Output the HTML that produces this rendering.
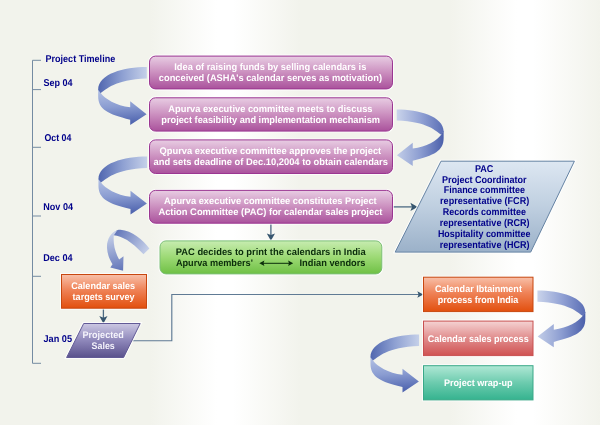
<!DOCTYPE html>
<html lang="en">
<head>
<meta charset="utf-8">
<title>Project Timeline</title>
<style>
html,body{margin:0;padding:0;background:#f2f3ec;}
body{width:600px;height:425px;overflow:hidden;}
svg{display:block;will-change:transform;text-rendering:geometricPrecision;font-family:"Liberation Sans",Arial,sans-serif;font-weight:bold;}
</style>
</head>
<body>
<svg width="600" height="425" viewBox="0 0 600 425">
<defs>
<linearGradient id="bg" x1="0" y1="0" x2="1" y2="0">
<stop offset="0.0000" stop-color="#f2f3ec"/>
<stop offset="0.2500" stop-color="#f2f3ec"/>
<stop offset="0.3617" stop-color="#ffffff"/>
<stop offset="0.3883" stop-color="#ffffff"/>
<stop offset="0.5000" stop-color="#f2f3ec"/>
<stop offset="0.7500" stop-color="#f2f3ec"/>
<stop offset="0.8617" stop-color="#ffffff"/>
<stop offset="0.8883" stop-color="#ffffff"/>
<stop offset="1.0000" stop-color="#f2f3ec"/>
</linearGradient>
<linearGradient id="gPurple" x1="0" y1="0" x2="0" y2="1">
<stop offset="0" stop-color="#e8cde3"/>
<stop offset="0.5" stop-color="#cb8fbf"/>
<stop offset="1" stop-color="#aa529c"/>
</linearGradient>
<linearGradient id="gGreen" x1="0" y1="0" x2="0" y2="1">
<stop offset="0" stop-color="#c7ecb0"/>
<stop offset="0.5" stop-color="#9cd974"/>
<stop offset="1" stop-color="#6fc045"/>
</linearGradient>
<linearGradient id="gOrange" x1="0" y1="0" x2="0" y2="1">
<stop offset="0" stop-color="#f8c0a9"/>
<stop offset="0.45" stop-color="#ef8358"/>
<stop offset="1" stop-color="#e24f0e"/>
</linearGradient>
<linearGradient id="gRed" x1="0" y1="0" x2="0" y2="1">
<stop offset="0" stop-color="#f5d3d3"/>
<stop offset="0.5" stop-color="#e08c8c"/>
<stop offset="1" stop-color="#d05252"/>
</linearGradient>
<linearGradient id="gTeal" x1="0" y1="0" x2="0" y2="1">
<stop offset="0" stop-color="#b0e8d5"/>
<stop offset="0.5" stop-color="#6ccbae"/>
<stop offset="1" stop-color="#35b38f"/>
</linearGradient>
<linearGradient id="gBlue" x1="0" y1="0" x2="0" y2="1">
<stop offset="0" stop-color="#dde7f2"/>
<stop offset="0.5" stop-color="#bfcfe0"/>
<stop offset="1" stop-color="#9bb1c9"/>
</linearGradient>
<linearGradient id="gViolet" x1="0" y1="0" x2="0" y2="1">
<stop offset="0" stop-color="#ccc8e3"/>
<stop offset="0.5" stop-color="#8e87ba"/>
<stop offset="1" stop-color="#5a518c"/>
</linearGradient>
<linearGradient id="aTop" gradientUnits="userSpaceOnUse" x1="48.8" y1="0" x2="0" y2="0">
<stop offset="0" stop-color="#c5d0e9"/>
<stop offset="0.5" stop-color="#8ea0d2"/>
<stop offset="1" stop-color="#5066af"/>
</linearGradient>
<linearGradient id="aBot" gradientUnits="userSpaceOnUse" x1="0" y1="24" x2="3" y2="58">
<stop offset="0" stop-color="#b1bfe3"/>
<stop offset="0.5" stop-color="#8a9cd1"/>
<stop offset="1" stop-color="#5166b0"/>
</linearGradient>
<linearGradient id="rTop" gradientUnits="userSpaceOnUse" x1="48.8" y1="0" x2="0" y2="0">
<stop offset="0" stop-color="#cad4eb"/>
<stop offset="0.5" stop-color="#93a3d5"/>
<stop offset="1" stop-color="#5a6eb5"/>
</linearGradient>
<linearGradient id="rBot" gradientUnits="userSpaceOnUse" x1="48.8" y1="0" x2="0" y2="0">
<stop offset="0" stop-color="#c3cee8"/>
<stop offset="0.5" stop-color="#8c9dd1"/>
<stop offset="1" stop-color="#4a5faa"/>
</linearGradient>
<linearGradient id="sTop" gradientUnits="userSpaceOnUse" x1="114" y1="232" x2="147" y2="252">
<stop offset="0" stop-color="#5f73b7"/>
<stop offset="1" stop-color="#c6d0e9"/>
</linearGradient>
<linearGradient id="sBot" gradientUnits="userSpaceOnUse" x1="110" y1="234" x2="120" y2="270">
<stop offset="0" stop-color="#c6d0e9"/>
<stop offset="1" stop-color="#6578ba"/>
</linearGradient>
<g id="curve">
<path d="M0.16,21.5 L0.16,29 C0.16,42.1 9.8,46.9 32.2,52.4 L32.2,57.8 L48.6,46.9 L32.2,34 L32.2,40 C17.9,38.25 6.8,31.4 2.7,25.7 L2.2,24.6 Z" fill="url(#aBot)"/>
<path d="M48.8,-0.2 C26,-0.2 0.16,6.6 0.16,22.5 L2.7,25.9 C8,22.4 16.3,12.4 48.8,11.3 Z" fill="url(#aTop)"/>
</g>
<g id="curveR">
<path d="M0.16,21.5 L0.16,29 C0.16,42.1 9.8,46.9 32.2,52.4 L32.2,57.8 L48.6,46.9 L32.2,34 L32.2,40 C17.9,38.25 6.8,31.4 2.7,25.7 L2.2,24.6 Z" fill="url(#rBot)"/>
<path d="M48.8,-0.2 C26,-0.2 0.16,6.6 0.16,22.5 L2.7,25.9 C8,22.4 16.3,12.4 48.8,11.3 Z" fill="url(#rTop)"/>
</g>
</defs>
<rect x="0" y="0" width="600" height="425" fill="url(#bg)"/>

<path d="M41,60.3 H32.5 V363.3 H41 M32.5,89.6 H41 M32.5,147.3 H41 M32.5,216 H41 M32.5,276.3 H41" fill="none" stroke="#748ba2" stroke-width="1"/>
<text x="45.5" y="61.9" fill="#00008a" font-size="9.9" text-anchor="start" textLength="69.7" lengthAdjust="spacingAndGlyphs">Project Timeline</text>
<text x="43.5" y="85.9" fill="#00008a" font-size="9.9" text-anchor="start" textLength="29.0" lengthAdjust="spacingAndGlyphs">Sep 04</text>
<text x="44.5" y="140.8" fill="#00008a" font-size="9.9" text-anchor="start" textLength="26.8" lengthAdjust="spacingAndGlyphs">Oct 04</text>
<text x="43.3" y="209.7" fill="#00008a" font-size="9.9" text-anchor="start" textLength="29.7" lengthAdjust="spacingAndGlyphs">Nov 04</text>
<text x="43.3" y="260.7" fill="#00008a" font-size="9.9" text-anchor="start" textLength="29.2" lengthAdjust="spacingAndGlyphs">Dec 04</text>
<text x="43.5" y="341.5" fill="#00008a" font-size="9.9" text-anchor="start" textLength="28.5" lengthAdjust="spacingAndGlyphs">Jan 05</text>
<use href="#curve" transform="translate(98,67.3) scale(1,1)"/>
<use href="#curve" transform="translate(98.3,156.7) scale(1,1)"/>
<use href="#curve" transform="translate(370.3,334.7) scale(1,1)"/>
<use href="#curveR" transform="translate(443.8,109.6) scale(-0.965,0.975)"/>
<use href="#curveR" transform="translate(585.5,290.8) scale(-0.985,0.975)"/>
<path d="M149.4,248.4 C143,240 132,230.5 120.5,229.8 C116,229.6 114,232 113.8,235.2 C122,236 131,241 143.5,254.3 Z" fill="url(#sTop)"/>
<path d="M117.1,230.6 C111,232 106.5,240 107,248 C107.3,254 109.5,259.5 112.5,264.2 L110.3,267.5 L123.1,270.8 L123.5,256.3 L119.1,259.6 C115,252 113,244 113.8,235.4 Z" fill="url(#sBot)"/>
<path d="M392.5,206.9 H412.5" fill="none" stroke="#4d6a83" stroke-width="1.3"/>
<path d="M417.7,206.9 L410.4,202.8 L412.01,206.9 L410.4,211.0 Z" fill="#37566f"/>
<path d="M270.9,223.5 V235.5" fill="none" stroke="#4d6a83" stroke-width="1.3"/>
<path d="M270.9,240.7 L266.8,233.4 L270.9,235.01 L275.0,233.4 Z" fill="#37566f"/>
<path d="M103.4,308.5 V318" fill="none" stroke="#4d6a83" stroke-width="1.3"/>
<path d="M103.4,323.4 L99.3,316.1 L103.4,317.71 L107.5,316.1 Z" fill="#37566f"/>
<path d="M131.5,340.7 H171.8 V294.5 H419" fill="none" stroke="#5f7a94" stroke-width="1.15"/>
<path d="M423.3,294.5 L417.3,291.2 L418.62,294.5 L417.3,297.8 Z" fill="#37566f"/>
<rect x="149.5" y="56.1" width="243" height="32.8" rx="6" ry="6" fill="none" stroke="#ffffff" stroke-opacity="0.75" stroke-width="3"/>
<rect x="149.5" y="56.1" width="243" height="32.8" rx="6" ry="6" fill="url(#gPurple)" stroke="#9b3692" stroke-width="1"/>
<text x="174.3" y="70" fill="#fff" font-size="9.6" text-anchor="start" textLength="192.0" lengthAdjust="spacingAndGlyphs">Idea of raising funds by selling calendars is</text>
<text x="158.8" y="80.8" fill="#fff" font-size="9.6" text-anchor="start" textLength="223.2" lengthAdjust="spacingAndGlyphs">conceived (ASHA's calendar serves as motivation)</text>
<rect x="149.5" y="97.8" width="243" height="33.3" rx="6" ry="6" fill="none" stroke="#ffffff" stroke-opacity="0.75" stroke-width="3"/>
<rect x="149.5" y="97.8" width="243" height="33.3" rx="6" ry="6" fill="url(#gPurple)" stroke="#9b3692" stroke-width="1"/>
<text x="168.3" y="112" fill="#fff" font-size="9.6" text-anchor="start" textLength="204.2" lengthAdjust="spacingAndGlyphs">Apurva executive committee meets to discuss</text>
<text x="161.3" y="123" fill="#fff" font-size="9.6" text-anchor="start" textLength="218.7" lengthAdjust="spacingAndGlyphs">project feasibility and implementation mechanism</text>
<rect x="149.5" y="139.9" width="243" height="33.6" rx="6" ry="6" fill="none" stroke="#ffffff" stroke-opacity="0.75" stroke-width="3"/>
<rect x="149.5" y="139.9" width="243" height="33.6" rx="6" ry="6" fill="url(#gPurple)" stroke="#9b3692" stroke-width="1"/>
<text x="159.5" y="154" fill="#fff" font-size="9.6" text-anchor="start" textLength="221.7" lengthAdjust="spacingAndGlyphs">Qpurva executive committee approves the project</text>
<text x="153.5" y="164.8" fill="#fff" font-size="9.6" text-anchor="start" textLength="234.4" lengthAdjust="spacingAndGlyphs">and sets deadline of Dec.10,2004 to obtain calendars</text>
<rect x="149.5" y="190.4" width="243" height="32.8" rx="6" ry="6" fill="none" stroke="#ffffff" stroke-opacity="0.75" stroke-width="3"/>
<rect x="149.5" y="190.4" width="243" height="32.8" rx="6" ry="6" fill="url(#gPurple)" stroke="#9b3692" stroke-width="1"/>
<text x="164" y="203.9" fill="#fff" font-size="9.6" text-anchor="start" textLength="212.7" lengthAdjust="spacingAndGlyphs">Apurva executive committee constitutes Project</text>
<text x="158.4" y="214.9" fill="#fff" font-size="9.6" text-anchor="start" textLength="224.1" lengthAdjust="spacingAndGlyphs">Action Committee (PAC) for calendar sales project</text>
<rect x="160" y="240.9" width="221.8" height="33" rx="6" ry="6" fill="none" stroke="#ffffff" stroke-opacity="0.75" stroke-width="3"/>
<rect x="160" y="240.9" width="221.8" height="33" rx="6" ry="6" fill="url(#gGreen)" stroke="#7cbf76" stroke-width="1"/>
<text x="175.7" y="255" fill="#0b2d0b" font-size="9.6" text-anchor="start" textLength="190" lengthAdjust="spacingAndGlyphs">PAC decides to print the calendars in India</text>
<text x="175.9" y="266" fill="#0b2d0b" font-size="9.6" text-anchor="start" textLength="77" lengthAdjust="spacingAndGlyphs">Apurva members'</text>
<text x="299.5" y="266" fill="#0b2d0b" font-size="9.6" text-anchor="start" textLength="66" lengthAdjust="spacingAndGlyphs">Indian vendors</text>
<path d="M262,263.3 H290.5" fill="none" stroke="#0b2d0b" stroke-width="1"/>
<path d="M259.3,263.3 L264.4,260.6 L263.5,263.3 L264.4,266 Z M293.2,263.3 L288.1,260.6 L289,263.3 L288.1,266 Z" fill="#0b2d0b"/>
<path d="M441,161.2 L574.4,161.2 L530.7,252.1 L395.2,252.1 Z" fill="none" stroke="#ffffff" stroke-opacity="0.75" stroke-width="3"/>
<path d="M441,161.2 L574.4,161.2 L530.7,252.1 L395.2,252.1 Z" fill="url(#gBlue)" stroke="#6583a3" stroke-width="1"/>
<text x="474.9" y="171.7" fill="#00008a" font-size="9.9" text-anchor="start" textLength="18.4" lengthAdjust="spacingAndGlyphs">PAC</text>
<text x="441.9" y="182.5" fill="#00008a" font-size="9.9" text-anchor="start" textLength="84.7" lengthAdjust="spacingAndGlyphs">Project Coordinator</text>
<text x="443.7" y="193.4" fill="#00008a" font-size="9.9" text-anchor="start" textLength="81.3" lengthAdjust="spacingAndGlyphs">Finance committee</text>
<text x="440.1" y="204.2" fill="#00008a" font-size="9.9" text-anchor="start" textLength="89.1" lengthAdjust="spacingAndGlyphs">representative (FCR)</text>
<text x="442.8" y="215.0" fill="#00008a" font-size="9.9" text-anchor="start" textLength="83.1" lengthAdjust="spacingAndGlyphs">Records committee</text>
<text x="439.7" y="225.8" fill="#00008a" font-size="9.9" text-anchor="start" textLength="89.8" lengthAdjust="spacingAndGlyphs">representative (RCR)</text>
<text x="437.9" y="236.7" fill="#00008a" font-size="9.9" text-anchor="start" textLength="92.6" lengthAdjust="spacingAndGlyphs">Hospitality committee</text>
<text x="439.7" y="247.5" fill="#00008a" font-size="9.9" text-anchor="start" textLength="89.8" lengthAdjust="spacingAndGlyphs">representative (HCR)</text>
<rect x="61.5" y="274.5" width="85" height="33.7" fill="none" stroke="#ffffff" stroke-opacity="0.75" stroke-width="3"/>
<rect x="61.5" y="274.5" width="85" height="33.7" fill="url(#gOrange)" stroke="#c8470f" stroke-width="1"/>
<text x="71.3" y="288.8" fill="#fff" font-size="9.6" text-anchor="start" textLength="63.8" lengthAdjust="spacingAndGlyphs">Calendar sales</text>
<text x="72.6" y="299.6" fill="#fff" font-size="9.6" text-anchor="start" textLength="61.9" lengthAdjust="spacingAndGlyphs">targets survey</text>
<path d="M83.7,323.5 L140.2,323.5 L123.6,357.5 L66.6,357.5 Z" fill="none" stroke="#ffffff" stroke-opacity="0.75" stroke-width="3"/>
<path d="M83.7,323.5 L140.2,323.5 L123.6,357.5 L66.6,357.5 Z" fill="url(#gViolet)" stroke="#625a96" stroke-width="1"/>
<text x="82.5" y="338.4" fill="#f4f3fb" font-size="9.6" text-anchor="start" textLength="41.3" lengthAdjust="spacingAndGlyphs">Projected</text>
<text x="91.6" y="349" fill="#f4f3fb" font-size="9.6" text-anchor="start" textLength="23.2" lengthAdjust="spacingAndGlyphs">Sales</text>
<rect x="423.5" y="277.2" width="109.5" height="34.4" fill="none" stroke="#ffffff" stroke-opacity="0.75" stroke-width="3"/>
<rect x="423.5" y="277.2" width="109.5" height="34.4" fill="url(#gOrange)" stroke="#c8470f" stroke-width="1"/>
<text x="435" y="292.1" fill="#fff" font-size="9.6" text-anchor="start" textLength="86.9" lengthAdjust="spacingAndGlyphs">Calendar Ibtainment</text>
<text x="437.7" y="303.1" fill="#fff" font-size="9.6" text-anchor="start" textLength="80.6" lengthAdjust="spacingAndGlyphs">process from India</text>
<rect x="423.5" y="321.1" width="109.5" height="34.5" fill="none" stroke="#ffffff" stroke-opacity="0.75" stroke-width="3"/>
<rect x="423.5" y="321.1" width="109.5" height="34.5" fill="url(#gRed)" stroke="#c85050" stroke-width="1"/>
<text x="427.7" y="342" fill="#fff" font-size="9.6" text-anchor="start" textLength="101.0" lengthAdjust="spacingAndGlyphs">Calendar sales process</text>
<rect x="423.5" y="365.7" width="109.5" height="34.2" fill="none" stroke="#ffffff" stroke-opacity="0.75" stroke-width="3"/>
<rect x="423.5" y="365.7" width="109.5" height="34.2" fill="url(#gTeal)" stroke="#3aa888" stroke-width="1"/>
<text x="444" y="386" fill="#fff" font-size="9.6" text-anchor="start" textLength="68.5" lengthAdjust="spacingAndGlyphs">Project wrap-up</text>
</svg>
</body>
</html>
